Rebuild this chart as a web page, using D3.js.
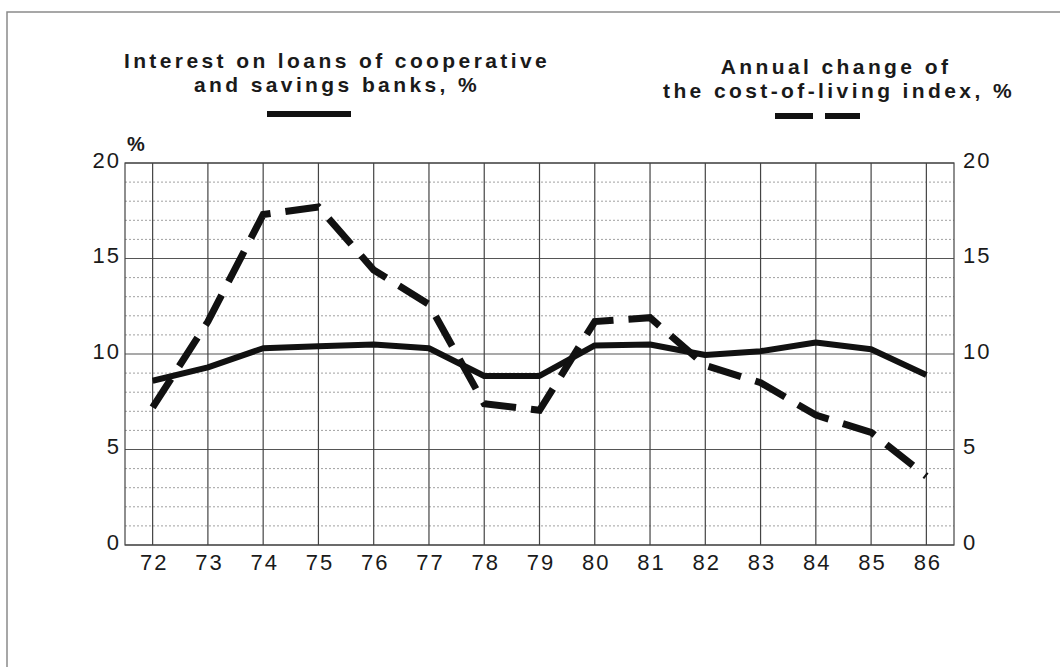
<!DOCTYPE html>
<html>
<head>
<meta charset="utf-8">
<script src="https://cdn.jsdelivr.net/npm/d3@7"></script>
<style>
  body { margin: 0; background: #fff; }
  text { font-family: "Liberation Sans", Arial, sans-serif; fill: #1a1a1a; }
</style>
</head>
<body>
<div id="chart"></div>
<script>
var years = [72, 73, 74, 75, 76, 77, 78, 79, 80, 81, 82, 83, 84, 85, 86];
var interestRate = [8.6, 9.3, 10.3, 10.4, 10.5, 10.3, 8.85, 8.85, 10.45, 10.5, 9.95, 10.15, 10.6, 10.25, 8.9];
var costOfLiving = [7.2, 11.7, 17.3, 17.7, 14.4, 12.6, 7.4, 7.05, 11.7, 11.9, 9.4, 8.5, 6.8, 5.9, 3.6];
var yTicks = [0, 5, 10, 15, 20];
var minorTicks = d3.range(1, 20).filter(function(v) { return v % 5 !== 0; });

(function() {
	var width = 1060,
		height = 667;

	var svg = d3.select("#chart")
		.append("svg")
		.attr("width", width)
		.attr("height", height);

	// outer frame (only left and top edges show in the scan)
	svg.append("path")
		.attr("d", "M7,667V12H1060")
		.attr("fill", "none")
		.attr("stroke", "#8a8a8a")
		.attr("stroke-width", 1.5);

	var x = d3.scaleLinear()
		.domain([71.5, 86.5])
		.range([125, 954]);

	var y = d3.scaleLinear()
		.domain([0, 20])
		.range([545, 163]);

	// minor dotted lines
	svg.append("g")
		.selectAll("line")
		.data(minorTicks)
		.enter().append("line")
		.attr("x1", x(71.5)).attr("x2", x(86.5))
		.attr("y1", function(d) { return y(d); })
		.attr("y2", function(d) { return y(d); })
		.attr("stroke", "#a0a0a0")
		.attr("stroke-width", 1)
		.attr("stroke-dasharray", "2,2");

	// major horizontal lines
	svg.append("g")
		.selectAll("line")
		.data(yTicks)
		.enter().append("line")
		.attr("x1", x(71.5)).attr("x2", x(86.5))
		.attr("y1", function(d) { return y(d); })
		.attr("y2", function(d) { return y(d); })
		.attr("stroke", "#555")
		.attr("stroke-width", 1.2);

	// vertical year lines
	svg.append("g")
		.selectAll("line")
		.data(years)
		.enter().append("line")
		.attr("x1", function(d) { return x(d); })
		.attr("x2", function(d) { return x(d); })
		.attr("y1", y(0)).attr("y2", y(20))
		.attr("stroke", "#444")
		.attr("stroke-width", 1.2);

	// plot border
	svg.append("rect")
		.attr("x", x(71.5)).attr("y", y(20))
		.attr("width", x(86.5) - x(71.5))
		.attr("height", y(0) - y(20))
		.attr("fill", "none")
		.attr("stroke", "#444")
		.attr("stroke-width", 1.2);

	// axes built with d3 axis, domain and ticks hidden
	var leftAxis = svg.append("g")
		.attr("transform", "translate(" + x(71.5) + ",0)")
		.call(d3.axisLeft(y).tickValues(yTicks).tickSize(0).tickPadding(4));
	var rightAxis = svg.append("g")
		.attr("transform", "translate(" + x(86.5) + ",0)")
		.call(d3.axisRight(y).tickValues(yTicks).tickSize(0).tickPadding(9));
	var bottomAxis = svg.append("g")
		.attr("transform", "translate(0," + y(0) + ")")
		.call(d3.axisBottom(x).tickValues(years).tickSize(0).tickPadding(8));

	[leftAxis, rightAxis, bottomAxis].forEach(function(a) {
		a.select(".domain").remove();
		a.selectAll("text")
			.attr("fill", "#1a1a1a")
			.style("font-family", "\"Liberation Sans\", Arial, sans-serif")
			.style("font-size", "22px")
			.style("letter-spacing", "2px");
	});
	leftAxis.selectAll("text").attr("dy", "0.2em");
	rightAxis.selectAll("text").attr("dy", "0.2em");
	bottomAxis.selectAll("text").attr("dy", "0.75em").attr("dx", "1px");

	svg.append("text")
		.attr("x", 136)
		.attr("y", 151)
		.attr("text-anchor", "middle")
		.style("font-size", "20px")
		.style("font-weight", "bold")
		.text("%");

	// series
	var line = d3.line()
		.x(function(d) { return x(d[0]); })
		.y(function(d) { return y(d[1]); });

	svg.append("path")
		.datum(d3.zip(years, interestRate))
		.attr("d", line)
		.attr("fill", "none")
		.attr("stroke", "#111")
		.attr("stroke-width", 6)
		.attr("stroke-linejoin", "round");

	svg.append("path")
		.datum(d3.zip(years, costOfLiving))
		.attr("d", line)
		.attr("fill", "none")
		.attr("stroke", "#111")
		.attr("stroke-width", 7)
		.attr("stroke-dasharray", "34,15");

	// legend
	var legendFont = function(sel) {
		sel.attr("text-anchor", "middle")
			.style("font-size", "21px")
			.style("font-weight", "bold")
			.style("letter-spacing", "3.4px");
	};

	svg.append("text").attr("x", 337).attr("y", 68).call(legendFont)
		.text("Interest on loans of cooperative");
	svg.append("text").attr("x", 337).attr("y", 92).call(legendFont)
		.text("and savings banks, %");
	svg.append("line")
		.attr("x1", 267).attr("x2", 351)
		.attr("y1", 114).attr("y2", 114)
		.attr("stroke", "#111").attr("stroke-width", 6);

	svg.append("text").attr("x", 836).attr("y", 74).call(legendFont)
		.text("Annual change of");
	svg.append("text").attr("x", 839).attr("y", 98).call(legendFont)
		.text("the cost-of-living index, %");
	svg.append("line")
		.attr("x1", 775).attr("x2", 860)
		.attr("y1", 116).attr("y2", 116)
		.attr("stroke", "#111").attr("stroke-width", 6)
		.attr("stroke-dasharray", "38,12");
})();
</script>
</body>
</html>
